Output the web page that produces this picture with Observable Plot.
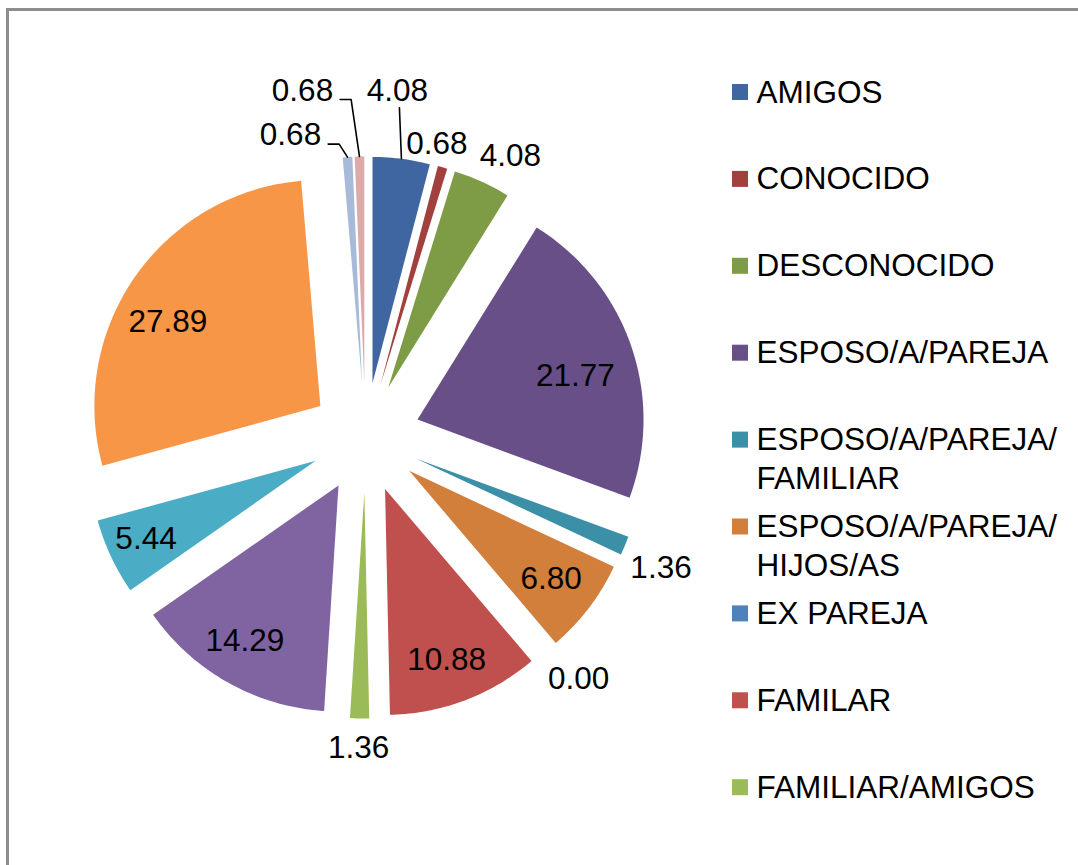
<!DOCTYPE html>
<html>
<head>
<meta charset="utf-8">
<script src="https://cdn.jsdelivr.net/npm/d3@7"></script>
<script src="https://cdn.jsdelivr.net/npm/@observablehq/plot@0.6"></script>
<style>
html, body { margin: 0; padding: 0; background: #fff; overflow: hidden; }
#chart { position: absolute; left: 0; top: 0; }
#frame { position: absolute; left: 6px; top: 8px; width: 1300px; height: 1100px;
  border-left: 3px solid #8d8d8d; border-top: 3px solid #8d8d8d; box-sizing: border-box;
  pointer-events: none; z-index: 2; }
</style>
</head>
<body>
<div id="chart"></div>
<div id="frame"></div>
<script>
// ---- data ----
const categories = [
  "AMIGOS", "CONOCIDO", "DESCONOCIDO", "ESPOSO/A/PAREJA",
  "ESPOSO/A/PAREJA/FAMILIAR", "ESPOSO/A/PAREJA/HIJOS/AS", "EX PAREJA",
  "FAMILAR", "FAMILIAR/AMIGOS", "HIJOS/AS", "OTROS", "SOLO/A", "TIO/A", "VECINOS"
];
const values = [4.08, 0.68, 4.08, 21.77, 1.36, 6.80, 0.00, 10.88, 1.36, 14.29, 5.44, 27.89, 0.68, 0.68];
const colors = [
  "#3f66a0", "#a1403d", "#7e9b46", "#684f88", "#3b8fa6", "#d27f3b", "#4f81bd",
  "#c0504d", "#9bbb59", "#8064a2", "#4bacc6", "#f79646", "#a8bada", "#dcaaa9"
];
const legendShown = 9; // the legend is cut off after the 9th entry

// ---- layout ----
const W = 1078, H = 865;
const cx = 365, cy = 437, R = 226, explode = 55;
const fs = 31.5;
// labels moved away from their default place, with a leader line (offset from the slice's outer point)
const callouts = { "AMIGOS": [-4, -68], "TIO/A": [-57, -22], "VECINOS": [-57, -66] };
// small adjustments of the default label placement
const labelNudge = {
  "CONOCIDO": [-18, 5], "DESCONOCIDO": [10, 1], "ESPOSO/A/PAREJA": [-11, 14],
  "ESPOSO/A/PAREJA/FAMILIAR": [-5, 11], "EX PAREJA": [2, 5], "FAMILAR": [-2, 4],
  "HIJOS/AS": [-6, 0], "OTROS": [-8, 2], "SOLO/A": [-6, 18]
};

const rows = categories.map((key, i) => ({ key, value: values[i] }));
const arcs = d3.pie().sort(null).value(d => d.value)(rows);
const fmt = d3.format(".2f");
const textW = s => [...s].reduce((a, ch) => a + (ch === "." ? 0.278 : 0.556), 0) * fs;

const slicePts = [], labels = [], leaders = [];
arcs.forEach(a => {
  const key = a.data.key;
  const m = (a.startAngle + a.endAngle) / 2;
  const ux = Math.sin(m), uy = -Math.cos(m);
  const vx = cx + explode * ux, vy = cy + explode * uy;
  slicePts.push({ key, x: vx, y: vy });
  const n = Math.max(1, Math.ceil((a.endAngle - a.startAngle) / (Math.PI / 180)));
  for (let i = 0; i <= n; i++) {
    const t = a.startAngle + (a.endAngle - a.startAngle) * i / n;
    slicePts.push({ key, x: vx + R * Math.sin(t), y: vy - R * Math.cos(t) });
  }
  const text = fmt(a.data.value);
  const w = textW(text), h = 30;
  const ox = vx + R * ux, oy = vy + R * uy; // outer mid point
  const [nx, ny] = labelNudge[key] || [0, 0];
  if (callouts[key]) {
    const [dx, dy] = callouts[key];
    const lx = ox + dx, ly = oy + dy;
    labels.push({ key, text, x: lx, y: ly });
    if (Math.abs(dx) < w / 2) {
      leaders.push({ key, x: ox, y: oy }, { key, x: ox - 2, y: ly + 17 });
    } else {
      leaders.push({ key, x: ox, y: oy },
                   { key, x: lx + w / 2 + 18, y: ly + 9 },
                   { key, x: lx + w / 2 + 7, y: ly + 9 });
    }
  } else if (a.data.value >= 5) {
    labels.push({ key, text, x: vx + 0.79 * R * ux + nx, y: vy + 0.79 * R * uy + ny });
  } else {
    labels.push({ key, text,
      x: vx + (R + 14) * ux + ux * w / 2 + nx,
      y: vy + (R + 14) * uy + uy * h / 2 + ny });
  }
});

// legend rows
const legendSq = [], legendTxt = [];
categories.slice(0, legendShown).forEach((key, i) => {
  const y = 92 + 86.9 * i;
  legendSq.push({ key, y });
  let lines = [key];
  if (key.length > 17) {
    const cut = key.lastIndexOf("/", 15) + 1;
    lines = [key.slice(0, cut), key.slice(cut)];
  }
  lines.forEach((t, j) => legendTxt.push({ t, y: y + j * 38.5 }));
});

const chart = Plot.plot({
  width: W, height: H, margin: 0,
  style: { background: "transparent", fontFamily: "'Liberation Sans', Arial, sans-serif", fontSize: fs + "px" },
  x: { domain: [0, W], range: [0, W], axis: null },
  y: { domain: [0, H], range: [0, H], axis: null },
  color: { domain: categories, range: colors },
  marks: [
    Plot.line(slicePts, { x: "x", y: "y", z: "key", fill: "key", stroke: null, curve: "linear-closed" }),
    Plot.line(leaders, { x: "x", y: "y", z: "key", stroke: "#000", strokeWidth: 1.6 }),
    Plot.text(labels, { x: "x", y: "y", text: "text", fill: "#000", fontSize: fs }),
    Plot.rect(legendSq, { x1: () => 732, x2: () => 748, y1: d => d.y - 8, y2: d => d.y + 8, fill: "key" }),
    Plot.text(legendTxt, { x: () => 756, y: "y", text: "t", textAnchor: "start", fill: "#000", fontSize: fs })
  ]
});
document.getElementById("chart").appendChild(chart);
</script>
</body>
</html>
